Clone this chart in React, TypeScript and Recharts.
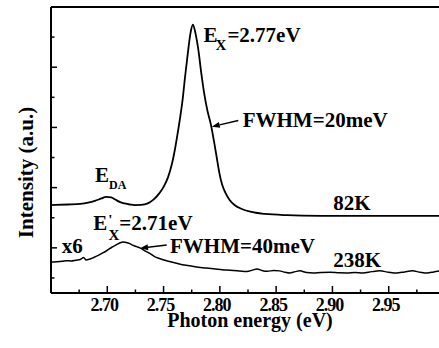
import React from "react";
import {
	LineChart,
	Line,
	XAxis,
	YAxis,
	ReferenceLine,
	ReferenceDot,
} from "recharts";

// 82 K spectrum (photon energy in eV, intensity in arbitrary units)
const energy82 = [
	2.65, 2.665, 2.676, 2.683, 2.689, 2.6947, 2.699, 2.7035, 2.7066, 2.711, 2.7154, 2.72, 2.7243,
	2.73, 2.736, 2.741, 2.746, 2.75, 2.754, 2.7575, 2.76, 2.7625, 2.765, 2.767, 2.769, 2.7715,
	2.774, 2.776, 2.7785, 2.781, 2.7835, 2.786, 2.789, 2.792, 2.7945, 2.797, 2.7995, 2.802,
	2.805, 2.8085, 2.813, 2.819, 2.827, 2.84, 2.86, 2.89, 2.93, 2.96, 3.0,
];
const intensity82 = [
	5.84, 5.88, 5.92, 6.0, 6.12, 6.28, 6.39, 6.36, 6.23, 6.05, 5.95, 5.88, 5.84,
	5.85, 5.95, 6.2, 6.6, 7.05, 7.7, 8.6, 9.5, 10.6, 11.8, 12.9, 14.3, 15.9,
	17.3, 17.82, 17.2, 16.1, 14.6, 13.3, 12.1, 11.2, 10.2, 9.1, 8.0, 7.2,
	6.65, 6.2, 5.85, 5.6, 5.4, 5.25, 5.17, 5.13, 5.12, 5.13, 5.12,
];

// 238 K spectrum, already multiplied by 6
const energy238 = [
	2.65, 2.655, 2.66, 2.664, 2.668, 2.672, 2.676, 2.679, 2.681, 2.684, 2.688, 2.692, 2.696,
	2.7, 2.704, 2.708, 2.711, 2.714, 2.717, 2.72, 2.723, 2.726, 2.729, 2.733, 2.738, 2.742,
	2.747, 2.752, 2.758, 2.764, 2.77, 2.778, 2.788, 2.798, 2.806, 2.812, 2.818, 2.824, 2.829,
	2.833, 2.838, 2.842, 2.848, 2.853, 2.858, 2.862, 2.867, 2.871, 2.877, 2.883, 2.89, 2.898,
	2.906, 2.913, 2.92, 2.927, 2.935, 2.942, 2.95, 2.957, 2.964, 2.971, 2.978, 2.984, 2.99,
	2.995, 3.0,
];
const intensity238 = [
	2.06, 2.08, 2.11, 2.15, 2.12, 2.18, 2.22, 2.36, 2.2, 2.24, 2.36, 2.5, 2.66,
	2.84, 3.04, 3.2, 3.32, 3.39, 3.36, 3.28, 3.16, 3.08, 3.0, 2.82, 2.62, 2.42,
	2.28, 2.16, 2.04, 1.93, 1.84, 1.74, 1.66, 1.58, 1.52, 1.5, 1.46, 1.43, 1.52,
	1.6, 1.48, 1.44, 1.5, 1.47, 1.38, 1.33, 1.42, 1.47, 1.36, 1.33, 1.37, 1.38,
	1.34, 1.33, 1.36, 1.33, 1.42, 1.47, 1.38, 1.33, 1.4, 1.47, 1.38, 1.33, 1.4,
	1.47, 1.42,
];

const xMajorTicks = [2.7, 2.75, 2.8, 2.85, 2.9, 2.95];
const xMinorTicks = [2.675, 2.725, 2.775, 2.825, 2.875, 2.925, 2.975];
const yTicks = [1, 3, 5, 7, 9, 11, 13, 15, 17];
const yLongTicks = [3, 7, 11, 15];

const rows82 = energy82.map((e, i) => ({ e, v: intensity82[i] }));
const rows238 = energy238.map((e, i) => ({ e, v: intensity238[i] }));
const xTicks = [...xMajorTicks, ...xMinorTicks].sort((a, b) => a - b);

const FONT = "'Liberation Serif', 'Times New Roman', serif";
const textStyle = { fontFamily: FONT, fontWeight: "bold" as const, fill: "#000" };

function XTick({ x, y, payload }: any) {
	const v = payload.value;
	const major = xMajorTicks.includes(v);
	return (
		<g>
			<line x1={x} x2={x} y1={y} y2={y - (major ? 7 : 3.5)} stroke="#000" strokeWidth={1.5} />
			{major && (
				<text x={x - 3} y={y + 18} textAnchor="middle" fontSize={18} letterSpacing={-1} {...textStyle}>
					{v.toFixed(2)}
				</text>
			)}
		</g>
	);
}

function YTick({ x, y, payload }: any) {
	const long = yLongTicks.includes(payload.value);
	return <line x1={x} x2={x + (long ? 6 : 3.5)} y1={y} y2={y} stroke="#000" strokeWidth={1.5} />;
}

function Arrow(props: any) {
	const { x1, y1, x2, y2 } = props;
	if (x1 == null || x2 == null) return null;
	const dx = x2 - x1;
	const dy = y2 - y1;
	const len = Math.hypot(dx, dy);
	const ux = dx / len;
	const uy = dy / len;
	const hl = 8;
	const hw = 3;
	const bx = x2 - ux * hl;
	const by = y2 - uy * hl;
	return (
		<g>
			<line x1={x1} y1={y1} x2={bx} y2={by} stroke="#000" strokeWidth={1.5} />
			<polygon
				points={`${x2},${y2} ${bx - uy * hw},${by + ux * hw} ${bx + uy * hw},${by - ux * hw}`}
				fill="#000"
			/>
		</g>
	);
}

// label content anchored at a data point (viewBox x/y = the dot centre)
function at(render: (x: number, y: number, vb: any) => React.ReactNode) {
	return {
		content: (p: any) => {
			const vb = p.viewBox || {};
			return render(vb.x ?? 0, vb.y ?? 0, vb);
		},
	};
}

export default function App() {
	return (
		<div
			style={{
				position: "fixed",
				left: 0,
				top: 0,
				width: 439,
				height: 348,
				overflow: "hidden",
				background: "#fff",
			}}
		>
			<LineChart width={470} height={348} margin={{ top: 7, right: 25, bottom: 0, left: 0 }}>
				<XAxis
					dataKey="e"
					type="number"
					domain={[2.65, 3.0]}
					ticks={xTicks}
					interval={0}
					allowDataOverflow
					tickLine={false}
					tickSize={0}
					tickMargin={0}
					tick={<XTick />}
					axisLine={{ stroke: "#000", strokeWidth: 2 }}
					height={55}
					label={at((x, y, vb) => (
						<text
							x={(vb.x ?? 51) + 199}
							y={(vb.y ?? 293) + 34}
							textAnchor="middle"
							fontSize={20}
							{...textStyle}
						>
							Photon energy (eV)
						</text>
					))}
				/>
				<YAxis
					type="number"
					domain={[0, 19]}
					ticks={yTicks}
					interval={0}
					width={51}
					tickLine={false}
					tickSize={0}
					tickMargin={0}
					tick={<YTick />}
					axisLine={{ stroke: "#000", strokeWidth: 2 }}
					label={at((x, y, vb) => {
						const lx = (vb.x ?? 0) + 33;
						const ly = (vb.y ?? 7) + 165.5;
						return (
							<text
								x={lx}
								y={ly}
								transform={`rotate(-90, ${lx}, ${ly})`}
								textAnchor="middle"
								fontSize={21}
								{...textStyle}
							>
								Intensity (a.u.)
							</text>
						);
					})}
				/>
				<ReferenceLine y={19} stroke="#000" strokeWidth={2} />

				<Line
					data={rows82}
					dataKey="v"
					type="monotone"
					stroke="#000"
					strokeWidth={1.8}
					dot={false}
					isAnimationActive={false}
				/>
				<Line
					data={rows238}
					dataKey="v"
					type="monotone"
					stroke="#000"
					strokeWidth={1.5}
					dot={false}
					isAnimationActive={false}
				/>

				{/* FWHM arrows */}
				<ReferenceLine
					segment={[
						{ x: 2.8164, y: 11.46 },
						{ x: 2.7928, y: 11.05 },
					]}
					shape={(p: any) => <Arrow {...p} />}
				/>
				<ReferenceLine
					segment={[
						{ x: 2.7528, y: 3.19 },
						{ x: 2.7291, y: 2.97 },
					]}
					shape={(p: any) => <Arrow {...p} />}
				/>

				<ReferenceDot
					x={2.7855}
					y={16.69}
					r={0}
					label={at((x, y) => (
						<text x={x} y={y} fontSize={21} {...textStyle}>
							E
							<tspan fontSize={15} dx={-2} dy={8}>
								X
							</tspan>
							<tspan dx={1} dy={-8}>
								=2.77eV
							</tspan>
						</text>
					))}
				/>
				<ReferenceDot
					x={2.8203}
					y={11.05}
					r={0}
					label={at((x, y) => (
						<text x={x} y={y} fontSize={21} {...textStyle}>
							FWHM=20meV
						</text>
					))}
				/>
				<ReferenceDot
					x={2.6891}
					y={7.39}
					r={0}
					label={at((x, y) => (
						<text x={x} y={y} fontSize={21} {...textStyle}>
							E
							<tspan fontSize={12} dy={7.6}>
								DA
							</tspan>
						</text>
					))}
				/>
				<ReferenceDot
					x={2.9008}
					y={5.51}
					r={0}
					label={at((x, y) => (
						<text x={x} y={y} fontSize={21} {...textStyle}>
							82K
						</text>
					))}
				/>
				<ReferenceDot
					x={2.6876}
					y={4.19}
					r={0}
					label={at((x, y) => (
						<text x={x} y={y} fontSize={21} {...textStyle}>
							E
							<tspan fontSize={15} dx={1} dy={-5}>
								'
							</tspan>
							<tspan fontSize={15} dx={-4} dy={15}>
								X
							</tspan>
							<tspan dx={0} dy={-10}>
								=2.71eV
							</tspan>
						</text>
					))}
				/>
				<ReferenceDot
					x={2.6595}
					y={2.63}
					r={0}
					label={at((x, y) => (
						<text x={x} y={y} fontSize={21} {...textStyle}>
							x6
						</text>
					))}
				/>
				<ReferenceDot
					x={2.7557}
					y={2.64}
					r={0}
					label={at((x, y) => (
						<text x={x} y={y} fontSize={21} {...textStyle}>
							FWHM=40meV
						</text>
					))}
				/>
				<ReferenceDot
					x={2.9008}
					y={1.75}
					r={0}
					label={at((x, y) => (
						<text x={x} y={y} fontSize={21} {...textStyle}>
							238K
						</text>
					))}
				/>
			</LineChart>
		</div>
	);
}
